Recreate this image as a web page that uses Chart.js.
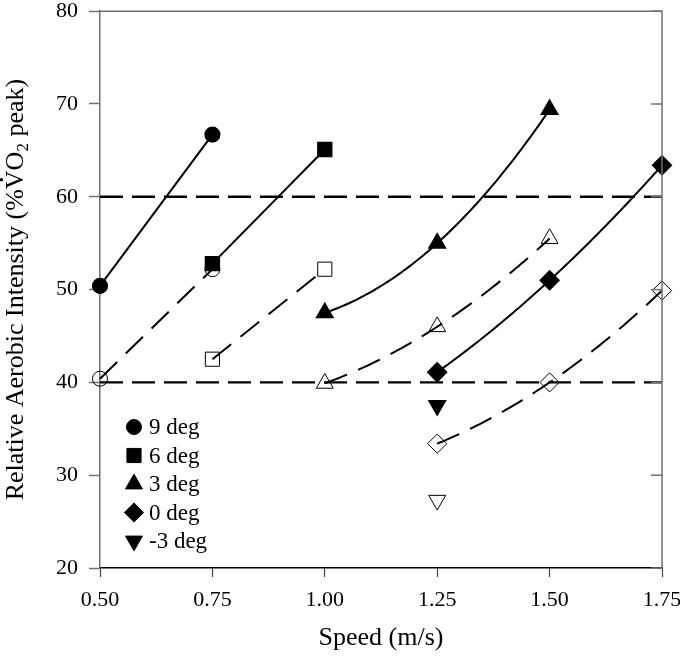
<!DOCTYPE html>
<html>
<head>
<meta charset="utf-8">
<script src="https://cdn.jsdelivr.net/npm/chart.js"></script>
<style>
  html, body { margin: 0; padding: 0; background: #fff; }
  #wrap { width: 680px; height: 662px; }
</style>
</head>
<body>
<div id="wrap"><canvas id="speedChart" width="680" height="662"></canvas></div>
<script>
// Relative aerobic intensity vs walking speed, one pair of curves per grade

// 9 deg
const speeds9 = [0.50, 0.75];
const filled9 = [50.4, 66.7];
const open9 = [40.4, 52.2];
// 6 deg
const speeds6 = [0.75, 1.00];
const filled6 = [52.8, 65.1];
const open6 = [42.5, 52.2];
// 3 deg
const speeds3 = [1.00, 1.25, 1.50];
const filled3 = [47.5, 55.0, 69.4];
const open3 = [39.9, 46.0, 55.5];
// 0 deg
const speeds0 = [1.25, 1.50, 1.75];
const filled0 = [41.1, 51.0, 63.4];
const open0 = [33.4, 40.0, 49.9];
// -3 deg
const speedsM3 = [1.25];
const filledM3 = [37.5];
const openM3 = [27.3];

const xTicks = [0.50, 0.75, 1.00, 1.25, 1.50, 1.75];
const yTicks = [20, 30, 40, 50, 60, 70, 80];
const refLevels = [40, 60];
const legendLabels = ['9 deg', '6 deg', '3 deg', '0 deg', '-3 deg'];
const markerStyles = ['circle', 'rect', 'triangle', 'rectRot', 'triangle'];
const markerRots = [0, 0, 0, 0, 180];
const markerRadii = [7.5, 10, 9.8, 9.6, 9.8];

const serif = '"Liberation Serif", "Times New Roman", serif';

function pts(xs, ys) {
    return xs.map((x, i) => ({ x: x, y: ys[i] }));
}

function series(xs, ys, k, filled) {
    const curved = xs.length > 2;   // 3-point series get a fitted curve (see plugin)
    return {
        data: pts(xs, ys),
        curve: curved,
        showLine: !curved,
        clip: false,
        borderColor: '#000',
        borderWidth: 2,
        borderDash: filled ? [] : [24, 12],
        pointStyle: markerStyles[k],
        pointRotation: markerRots[k],
        pointRadius: markerRadii[k],
        pointHoverRadius: markerRadii[k],
        pointBackgroundColor: filled ? '#000' : 'rgba(0,0,0,0)',
        pointBorderColor: '#000',
        pointBorderWidth: filled ? 1.2 : 1
    };
}

const datasets = [];
// filled first so they are painted on top
[[speeds9, filled9], [speeds6, filled6], [speeds3, filled3], [speeds0, filled0], [speedsM3, filledM3]]
    .forEach((s, k) => datasets.push(series(s[0], s[1], k, true)));
[[speeds9, open9], [speeds6, open6], [speeds3, open3], [speeds0, open0], [speedsM3, openM3]]
    .forEach((s, k) => datasets.push(series(s[0], s[1], k, false)));
refLevels.forEach(v => {
    datasets.push({
        data: [{ x: xTicks[0], y: v }, { x: xTicks[xTicks.length - 1], y: v }],
        showLine: true,
        borderColor: '#000',
        borderWidth: 2.4,
        borderDash: [23, 9],
        pointRadius: 0,
        pointHoverRadius: 0
    });
});

// polynomial through the points of a series
function lagrange(d, x) {
    let sum = 0;
    for (let i = 0; i < d.length; i++) {
        let term = d[i].y;
        for (let j = 0; j < d.length; j++) {
            if (j !== i) term *= (x - d[j].x) / (d[i].x - d[j].x);
        }
        sum += term;
    }
    return sum;
}

const curves = {
    id: 'curves',
    beforeDatasetsDraw(chart) {
        const ctx = chart.ctx;
        const sx = chart.scales.x, sy = chart.scales.y;
        chart.data.datasets.forEach(ds => {
            if (!ds.curve) return;
            const d = ds.data;
            const x0 = d[0].x, x1 = d[d.length - 1].x;
            ctx.save();
            ctx.strokeStyle = ds.borderColor;
            ctx.lineWidth = ds.borderWidth;
            ctx.setLineDash(ds.borderDash);
            ctx.lineJoin = 'round';
            ctx.beginPath();
            for (let k = 0; k <= 80; k++) {
                const x = x0 + (x1 - x0) * k / 80;
                const px = sx.getPixelForValue(x), py = sy.getPixelForValue(lagrange(d, x));
                if (k === 0) ctx.moveTo(px, py); else ctx.lineTo(px, py);
            }
            ctx.stroke();
            ctx.restore();
        });
    }
};

// frame on top/right, inward ticks on the right, axis titles, legend
const extras = {
    id: 'extras',
    afterDraw(chart) {
        const ctx = chart.ctx;
        const a = chart.chartArea;
        const ys = chart.scales.y;
        ctx.save();
        ctx.strokeStyle = '#707070';
        ctx.lineWidth = 1.5;
        ctx.beginPath();
        ctx.moveTo(a.left, a.top);
        ctx.lineTo(a.right, a.top);
        ctx.lineTo(a.right, a.bottom);
        ctx.stroke();
        yTicks.forEach(v => {
            const py = ys.getPixelForValue(v);
            ctx.beginPath();
            ctx.moveTo(a.right, py);
            ctx.lineTo(a.right - 11, py);
            ctx.stroke();
        });

        // x title
        ctx.fillStyle = '#000';
        ctx.font = '26px ' + serif;
        ctx.textAlign = 'center';
        ctx.textBaseline = 'alphabetic';
        ctx.fillText('Speed (m/s)', (a.left + a.right) / 2, 645);

        // y title with dotted V and subscript 2
        const big = '26px ' + serif, small = '17px ' + serif;
        const p1 = 'Relative Aerobic Intensity (%', pV = 'V', pO = 'O', p2 = '2', p3 = ' peak)';
        ctx.font = big;
        const w1 = ctx.measureText(p1).width, wV = ctx.measureText(pV).width,
              wO = ctx.measureText(pO).width, w3 = ctx.measureText(p3).width;
        ctx.font = small;
        const w2 = ctx.measureText(p2).width;
        const total = w1 + wV + wO + w2 + w3;
        ctx.translate(23, (a.top + a.bottom) / 2);
        ctx.rotate(-Math.PI / 2);
        ctx.textAlign = 'left';
        let x = -total / 2;
        ctx.font = big;
        ctx.fillText(p1, x, 0); x += w1;
        ctx.fillText(pV, x, 0);
        ctx.beginPath();
        ctx.arc(x + wV / 2, -21.5, 1.7, 0, Math.PI * 2);
        ctx.fill();
        x += wV;
        ctx.fillText(pO, x, 0); x += wO;
        ctx.font = small;
        ctx.fillText(p2, x, 5); x += w2;
        ctx.font = big;
        ctx.fillText(p3, x, 0);
        ctx.restore();

        // legend
        ctx.save();
        const lx = a.left + 34, ly = a.bottom - 141, step = 28.5;
        legendLabels.forEach((label, i) => {
            const y = ly + i * step;
            ctx.fillStyle = '#000';
            ctx.strokeStyle = '#000';
            ctx.lineWidth = 1;
            Chart.helpers.drawPoint(ctx, {
                pointStyle: markerStyles[i],
                rotation: markerRots[i],
                radius: markerRadii[i],
                borderWidth: 1
            }, lx, y);
            ctx.font = '23px ' + serif;
            ctx.textAlign = 'left';
            ctx.textBaseline = 'middle';
            ctx.fillText(label, lx + 15, y + 1);
        });
        ctx.restore();
    }
};

const ctx = document.getElementById('speedChart').getContext('2d');
new Chart(ctx, {
    type: 'scatter',
    data: { datasets: datasets },
    options: {
        responsive: false,
        animation: false,
        events: [],
        layout: { padding: { top: 8, right: 18, left: 0, bottom: 0 } },
        plugins: {
            legend: { display: false },
            tooltip: { enabled: false }
        },
        scales: {
            x: {
                type: 'linear',
                min: 0.5,
                max: 1.75,
                afterBuildTicks: s => { s.ticks = xTicks.map(v => ({ value: v })); },
                afterFit: s => { s.height = 94; s.paddingLeft = 0; s.paddingRight = 0; },
                border: { display: true, color: '#000', width: 1.5 },
                grid: { drawOnChartArea: false, drawTicks: true, tickLength: 9, tickColor: '#444', tickWidth: 1.2 },
                ticks: {
                    color: '#000',
                    padding: 10,
                    maxRotation: 0,
                    font: { family: serif, size: 22 },
                    callback: v => Number(v).toFixed(2)
                }
            },
            y: {
                type: 'linear',
                min: 20,
                max: 80,
                afterBuildTicks: s => { s.ticks = yTicks.map(v => ({ value: v })); },
                afterFit: s => { s.width = 100; s.paddingTop = 0; s.paddingBottom = 0; },
                border: { display: true, color: '#707070', width: 1.5 },
                grid: { drawOnChartArea: false, drawTicks: true, tickLength: 11, tickColor: '#707070', tickWidth: 1.5 },
                ticks: {
                    color: '#000',
                    padding: 11,
                    font: { family: serif, size: 22 }
                }
            }
        }
    },
    plugins: [curves, extras]
});
</script>
</body>
</html>
